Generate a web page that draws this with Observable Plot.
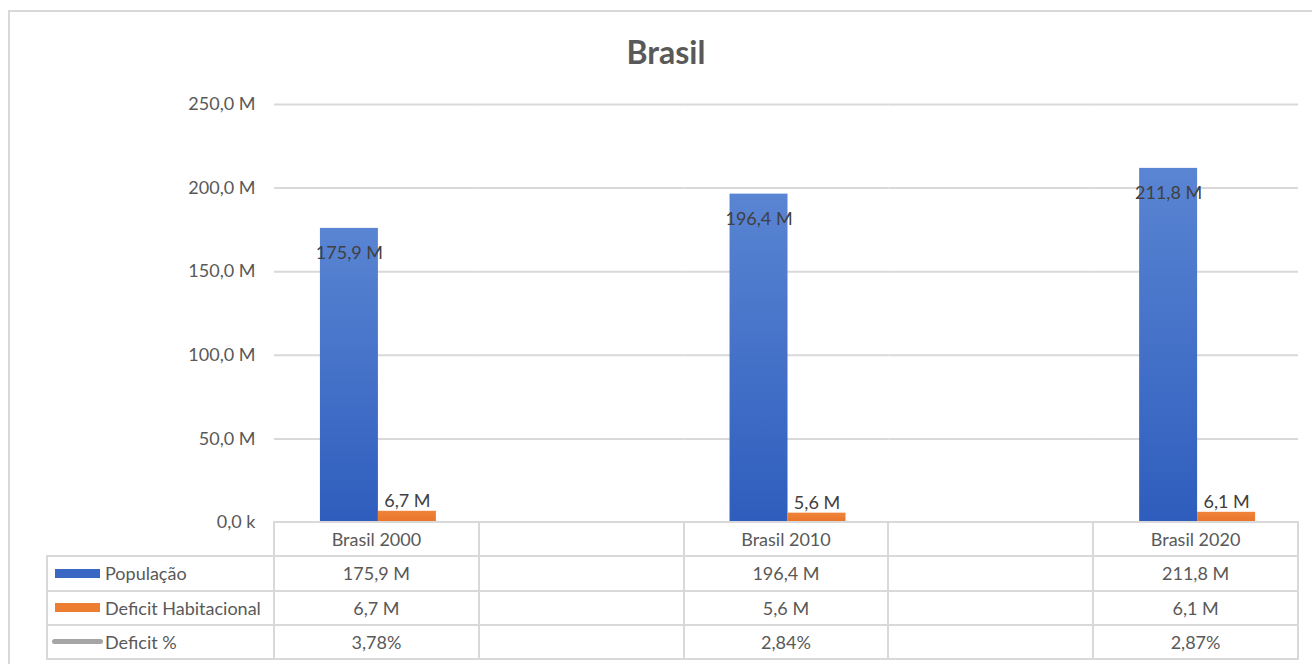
<!DOCTYPE html>
<html><head><meta charset="utf-8">
<script src="https://cdn.jsdelivr.net/npm/d3@7"></script>
<script src="https://cdn.jsdelivr.net/npm/@observablehq/plot@0.6"></script>
<style>
body{margin:0;background:#fff;font-family:Lato,"Noto Sans",sans-serif;}
#wrap{position:relative;width:1312px;height:664px;overflow:hidden;background:#fff;}
#wrap svg{position:absolute;left:0;top:0;}
#frame{position:absolute;left:8px;top:10px;width:1400px;height:700px;border:2px solid #d9d9d9;box-sizing:border-box;pointer-events:none;}
#title{position:absolute;left:0;width:1332px;top:32px;text-align:center;font-weight:700;font-size:32px;color:#595959;line-height:40px;}
.hl,.vl{position:absolute;background:#d9d9d9;}
.cell{position:absolute;font-size:18px;color:#595959;text-align:center;white-space:nowrap;display:flex;align-items:center;justify-content:center;}
.cell.leg{justify-content:flex-start;}
.sw{display:inline-block;width:45px;height:9px;margin-right:5px;}
.swl{display:inline-block;width:51px;height:5px;border-radius:3px;background:#a5a5a5;margin-right:2px;margin-left:-3px;}
</style></head>
<body><div id="wrap"></div>
<script>
// ---- data ----
const slots = ["Brasil 2000", "", "Brasil 2010", " ", "Brasil 2020"];
const categories = ["Brasil 2000", "Brasil 2010", "Brasil 2020"];
const series = ["População", "Deficit Habitacional", "Deficit %"];
const populacao = [175.9, 196.4, 211.8];       // millions
const deficit = [6.7, 5.6, 6.1];               // millions
const deficitPct = [3.78, 2.84, 2.87];         // percent
const yTicks = [0, 50, 100, 150, 200, 250];

const fmtM = v => v.toFixed(1).replace(".", ",") + " M";
const fmtY = v => v === 0 ? "0,0 k" : fmtM(v);
const fmtP = v => v.toFixed(2).replace(".", ",") + "%";

const popRows = categories.map((c, i) => ({cat: c, serie: series[0], v: populacao[i]}));
const defRows = categories.map((c, i) => ({cat: c, serie: series[1], v: deficit[i]}));
const gridRows = slots.flatMap(s => yTicks.slice(1).map(t => ({cat: s, t})));

const W = 1312, H = 664;
const marginTop = 104, marginBottom = 142, marginLeft = 274, plotRight = 1298;
const chart = Plot.plot({
  width: W, height: H,
  marginTop, marginBottom, marginLeft, marginRight: 0,
  style: {fontFamily: "Lato, 'Noto Sans', sans-serif", fontSize: "18px", color: "#595959", background: "transparent"},
  fx: {domain: slots, padding: 0, round: false, range: [marginLeft, plotRight], axis: null},
  x: {domain: series.slice(0, 2), paddingInner: 0, paddingOuter: 0.766, align: 0.517, round: false, axis: null},
  y: {domain: [0, 250], ticks: yTicks, tickFormat: fmtY, tickSize: 0, tickPadding: 19, label: null},
  marks: [
    Plot.ruleY(gridRows, {fx: "cat", y: "t", stroke: "#d9d9d9", strokeWidth: 2}),
    Plot.barY(popRows, {fx: "cat", x: "serie", y: "v", fill: "url(#gBlue)"}),
    Plot.barY(defRows, {fx: "cat", x: "serie", y: "v", fill: "url(#gOrange)"}),
    Plot.text(popRows, {fx: "cat", x: "serie", y: "v", text: d => fmtM(d.v), dy: 25, fill: "#404040", fontSize: 18}),
    Plot.text(defRows, {fx: "cat", x: "serie", y: "v", text: d => fmtM(d.v), lineAnchor: "bottom", dy: -4, fill: "#404040", fontSize: 18})
  ]
});

const defs = d3.select(chart).insert("defs", ":first-child");
const gb = defs.append("linearGradient").attr("id", "gBlue").attr("x1", 0).attr("y1", 0).attr("x2", 0).attr("y2", 1);
gb.append("stop").attr("offset", "0%").attr("stop-color", "#5a85d3");
gb.append("stop").attr("offset", "100%").attr("stop-color", "#2f5dbd");
const go = defs.append("linearGradient").attr("id", "gOrange").attr("x1", 0).attr("y1", 0).attr("x2", 0).attr("y2", 1);
go.append("stop").attr("offset", "0%").attr("stop-color", "#f0843a");
go.append("stop").attr("offset", "100%").attr("stop-color", "#e8742a");

const wrap = document.getElementById("wrap");
wrap.appendChild(chart);

const frame = document.createElement("div"); frame.id = "frame"; wrap.appendChild(frame);
const title = document.createElement("div"); title.id = "title"; title.textContent = "Brasil"; wrap.appendChild(title);

// ---- data table under the chart, aligned with the fx band layout ----
const x0 = marginLeft, x1 = plotRight;
const step = (x1 - x0) / slots.length;
const yBase = H - marginBottom;
const rowH = 34.25;
const legLeft = 47;
const lw = 2;

function el(cls, css) { const d = document.createElement("div"); d.className = cls; Object.assign(d.style, css); wrap.appendChild(d); return d; }
el("hl", {left: x0 + "px", top: (yBase - 1) + "px", width: (x1 - x0 + 1) + "px", height: lw + "px"});
for (let r = 1; r <= 4; r++) el("hl", {left: (legLeft - 1) + "px", top: (yBase + r * rowH - 1) + "px", width: (x1 - legLeft + 2) + "px", height: lw + "px"});
el("vl", {left: (legLeft - 1) + "px", top: (yBase + rowH - 1) + "px", width: lw + "px", height: (3 * rowH + 2) + "px"});
for (let c = 0; c <= slots.length; c++) el("vl", {left: (x0 + c * step - 1) + "px", top: (yBase - 1) + "px", width: lw + "px", height: (4 * rowH + 2) + "px"});

function cell(r, c, content) {
  const left = c < 0 ? legLeft + 8 : x0 + c * step;
  const w = c < 0 ? x0 - legLeft - 8 : step;
  const d = el("cell" + (c < 0 ? " leg" : ""), {left: left + "px", top: (yBase + r * rowH) + "px", width: w + "px", height: rowH + "px"});
  if (typeof content === "string") d.textContent = content; else d.appendChild(content);
}
function legendCell(kind, color, label) {
  const span = document.createElement("span");
  span.style.display = "flex"; span.style.alignItems = "center";
  const sw = document.createElement("span");
  if (kind === "bar") { sw.className = "sw"; sw.style.background = color; } else sw.className = "swl";
  span.appendChild(sw);
  span.appendChild(document.createTextNode(label));
  return span;
}
slots.forEach((s, c) => cell(0, c, s.trim()));
const rowsData = [
  [legendCell("bar", "#3a66c4", series[0]), populacao, fmtM],
  [legendCell("bar", "#ed7d31", series[1]), deficit, fmtM],
  [legendCell("line", "#a5a5a5", series[2]), deficitPct, fmtP]
];
rowsData.forEach(([leg, arr, f], k) => {
  cell(k + 1, -1, leg);
  slots.forEach((s, c) => { const i = categories.indexOf(s); cell(k + 1, c, i < 0 ? "" : f(arr[i])); });
});
</script></body></html>
